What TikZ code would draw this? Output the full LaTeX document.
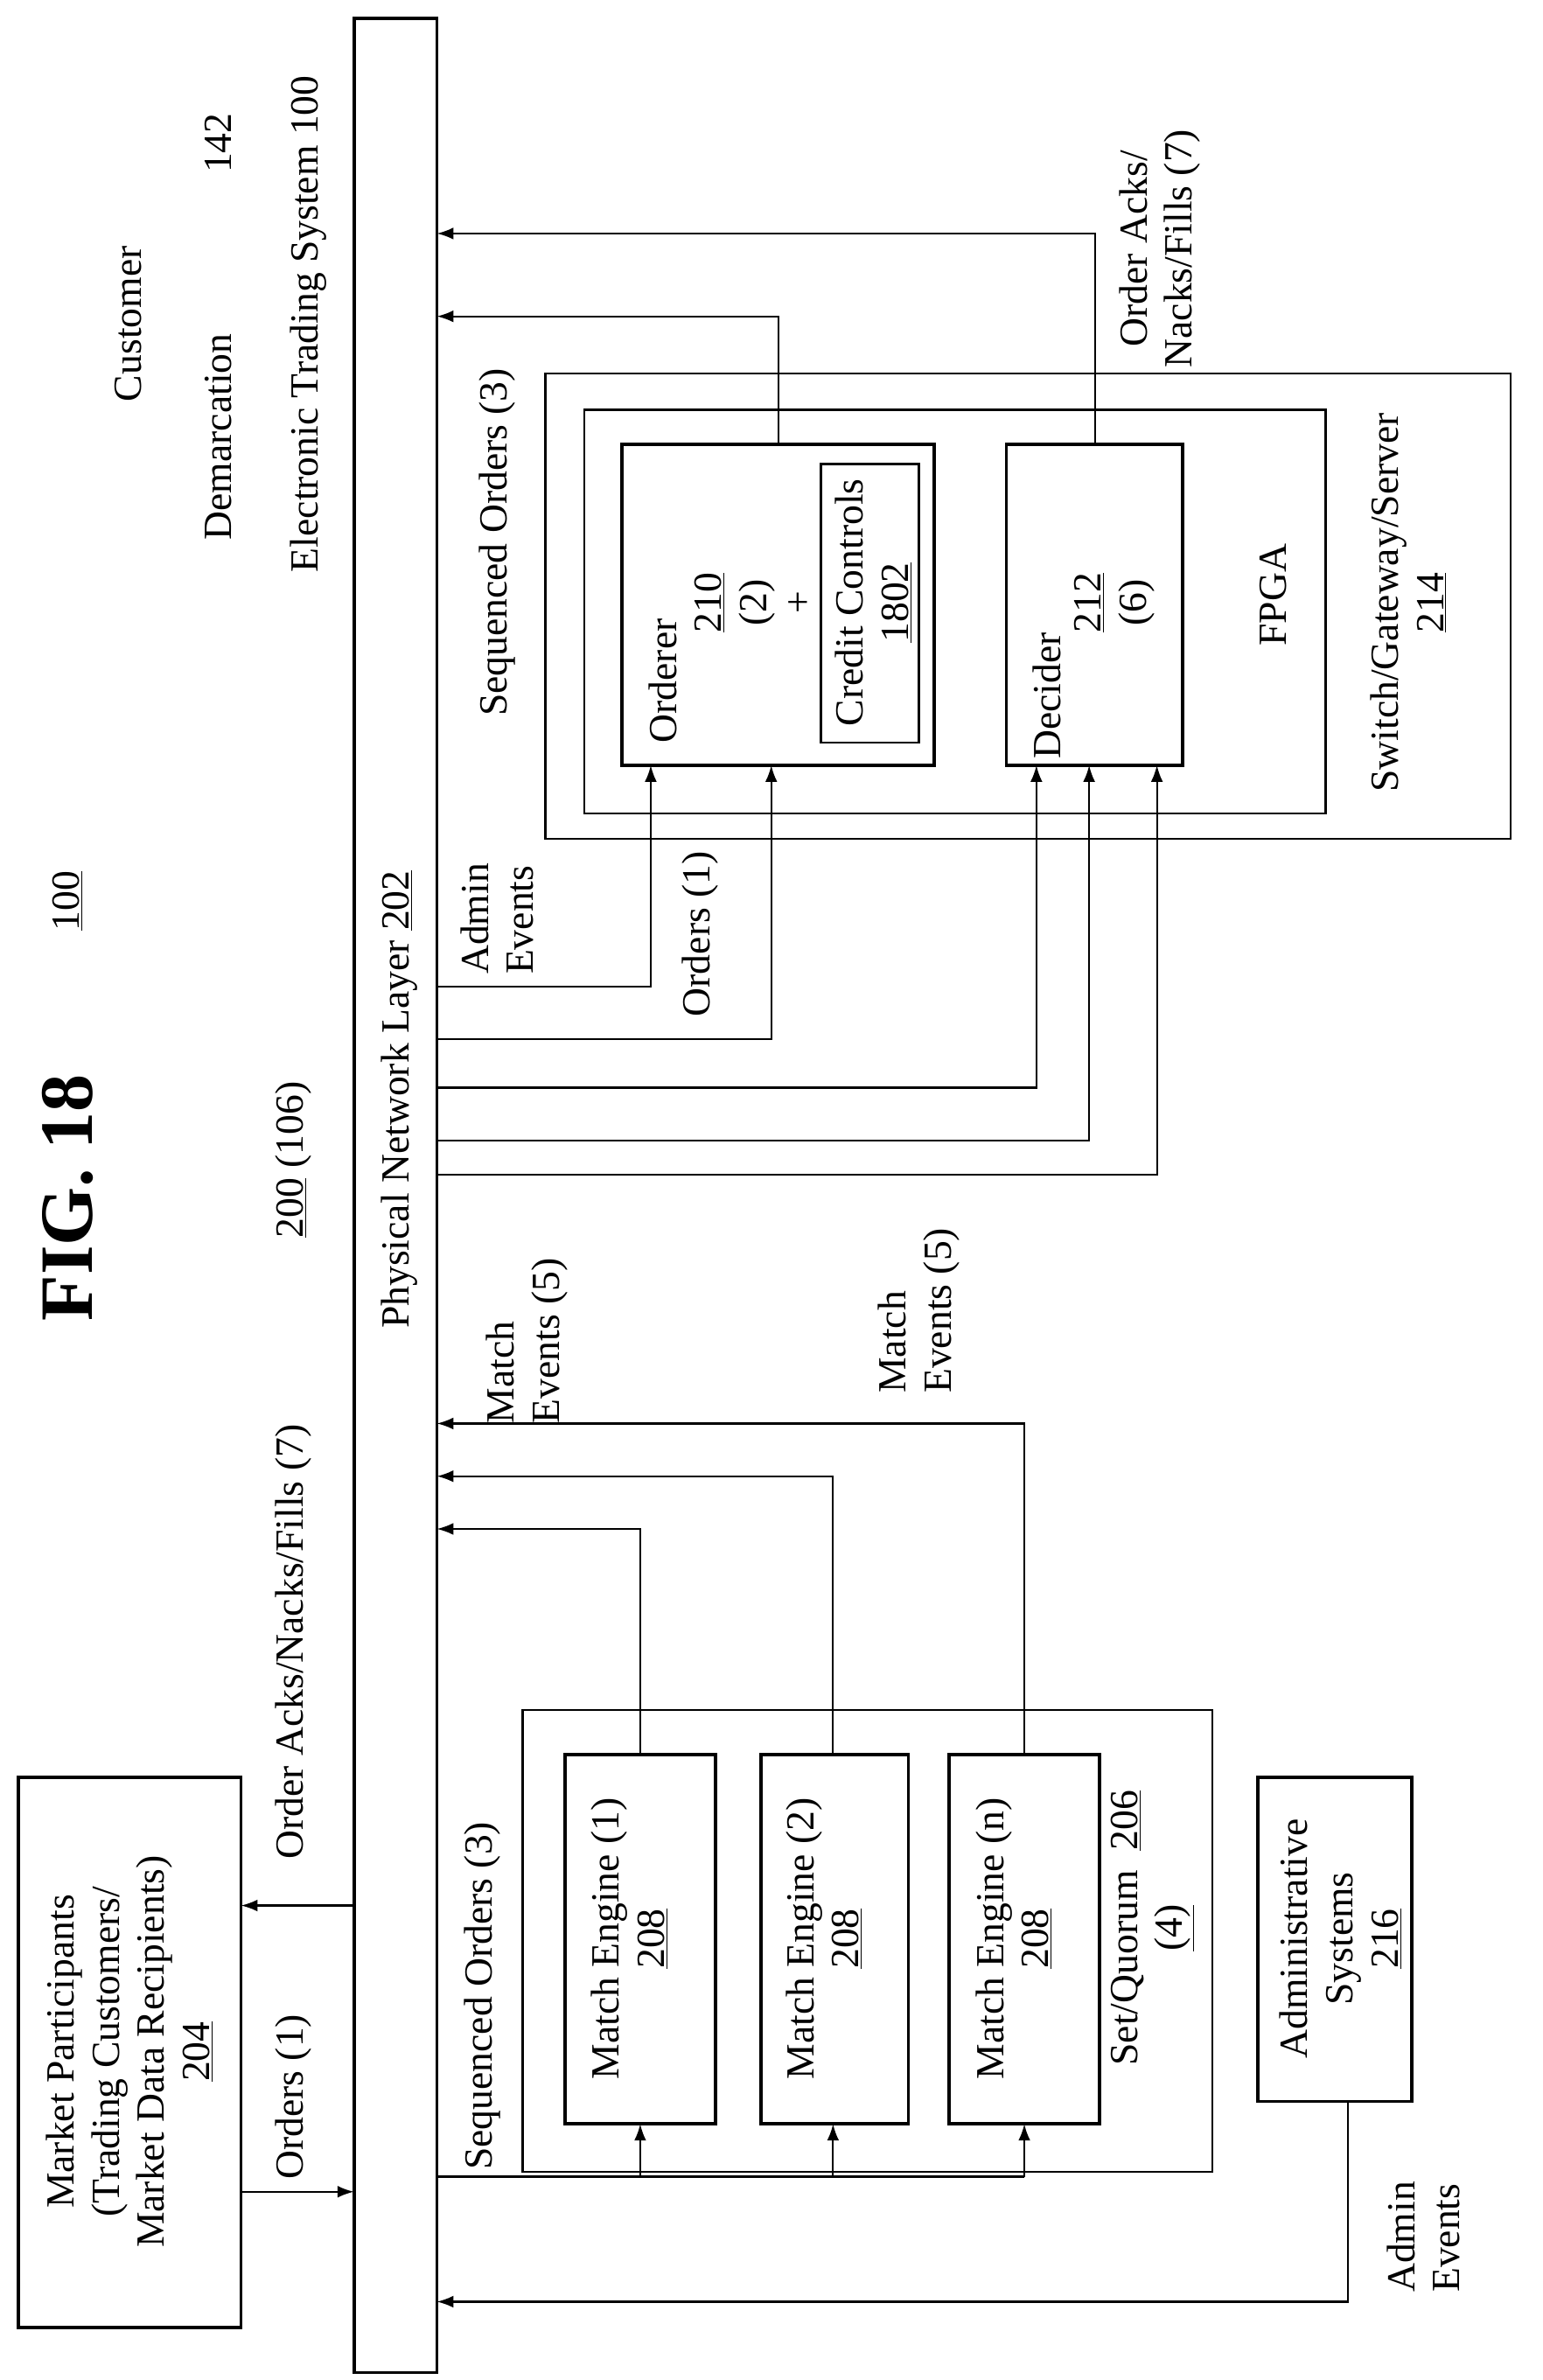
\documentclass[tikz,border=0pt]{standalone}
\usepackage{fontspec}
\setmainfont{Liberation Serif}
\usetikzlibrary{arrows.meta}
\begin{document}
\begin{tikzpicture}[x=1pt,y=-1pt,
 box/.style={draw,line width=2.2pt},
 thin/.style={draw,line width=1.3pt},
 t/.style={rotate=90,align=center,font=\fontsize{26.5}{30}\selectfont,inner sep=0},
 ar/.style={line width=1.3pt,-{Latex[length=11pt,width=8pt]}}]
\useasboundingbox (0,0) rectangle (1024,1580);
% bar
\node[box,minimum width=55,minimum height=1563,inner sep=0] (bar) at (262.5,793.5) {};
\node[t] (pnl) at (265,730) {Physical Network Layer \underline{202}};
\node[t] (ets) at (205,215) {Electronic Trading System 100};
\node[t] (dem) at (145,290) {Demarcation};
\node[t] (cus) at (85,215) {Customer};
\node[t] (n142) at (145,95) {142};
\node[t] (n100) at (45,598) {\underline{100}};
\node[t,font=\fontsize{50}{60}\selectfont\bfseries] (fig) at (45,795) {FIG. 18};
\node[t] (n200) at (195,770) {\underline{200} (106)};
% market participants
\node[box,minimum width=148,minimum height=365,inner sep=0] (mp) at (86,1362.5) {};
\node[t] (mpt) at (86,1362) {Market Participants\\(Trading Customers/\\Market Data Recipients)\\\underline{204}};
\coordinate (mpo) at (160,1455); \coordinate (bo) at (235,1455);
\draw[ar] (mpo) -- (bo);
\coordinate (ba) at (235,1265); \coordinate (mpa) at (160,1265);
\draw[ar] (ba) -- (mpa);
\node[t] (lo1) at (195,1392) {Orders (1)};
\node[t] (lo7) at (195,1090) {Order Acks/Nacks/Fills (7)};
% top
\node[thin,minimum width=641,minimum height=309,inner sep=0] (sgs) at (682.5,402.5) {};
\node[thin,minimum width=492,minimum height=268,inner sep=0] (fpga) at (634,406) {};
\node[box,minimum width=207,minimum height=213,inner sep=0] (ord) at (516.5,401.5) {};
\node[thin,minimum width=65,minimum height=185,inner sep=0] (cc) at (577.5,400.5) {};
\node[box,minimum width=117,minimum height=213,inner sep=0] (dec) at (726.5,401.5) {};
\node[t] (ordt) at (440,452) {Orderer};
\node[t] (ordn) at (500,400) {\underline{210}\\(2)\\+};
\node[t] (cct) at (580,400) {Credit Controls\\\underline{1802}};
\node[t] (dect) at (695,462) {Decider};
\node[t] (decn) at (740,400) {\underline{212}\\(6)};
\node[t] (fpgat) at (845,395) {FPGA};
\node[t] (sgst) at (935,400) {Switch/Gateway/Server\\\underline{214}};
\node[t] (lso) at (330,360) {Sequenced Orders (3)};
\node[t] (l7) at (770,165) {Order Acks/\\Nacks/Fills (7)};
\node[t,align=left] (lae) at (330,610) {Admin\\Events};
\node[t] (lo1b) at (465,620) {Orders (1)};
\coordinate (o1) at (517,295); \coordinate (b1) at (290,210);
\draw[ar] (o1) |- (b1);
\coordinate (d1) at (727,295); \coordinate (b2) at (290,155);
\draw[ar] (d1) |- (b2);
\foreach \y/\x in {655/432,690/512,722/688,757/723,780/768}{
 \coordinate (s) at (290,\y); \coordinate (e) at (\x,508);
 \draw[ar] (s) -| (e);}
% bottom
\node[thin,minimum width=458,minimum height=307,inner sep=0] (sq) at (576,1288.5) {};
\node[box,minimum width=100,minimum height=245,inner sep=0] (me1) at (425,1287.5) {};
\node[box,minimum width=98,minimum height=245,inner sep=0] (me2) at (554,1287.5) {};
\node[box,minimum width=100,minimum height=245,inner sep=0] (men) at (680,1287.5) {};
\node[t] (me1t) at (418,1287) {Match Engine (1)\\\underline{208}};
\node[t] (me2t) at (547,1287) {Match Engine (2)\\\underline{208}};
\node[t] (ment) at (673,1287) {Match Engine (n)\\\underline{208}};
\node[t] (sqt) at (765,1280) {Set/Quorum \ \underline{206}\\\underline{(4)}};
\node[t] (lso2) at (320,1325) {Sequenced Orders (3)};
\node[t,align=left] (lme1) at (350,890) {Match\\Events (5)};
\node[t,align=left] (lme2) at (610,870) {Match\\Events (5)};
\coordinate (m1) at (425,1165); \coordinate (bm1) at (290,1015); \draw[ar] (m1) |- (bm1);
\coordinate (m2) at (553,1165); \coordinate (bm2) at (290,980); \draw[ar] (m2) |- (bm2);
\coordinate (m3) at (680,1165); \coordinate (bm3) at (290,945); \draw[ar] (m3) |- (bm3);
\coordinate (sb) at (290,1445); \coordinate (se) at (680,1445);
\draw[line width=1.3pt] (sb) -- (se);
\foreach \x in {425,553,680}{\coordinate (u) at (\x,1445); \coordinate (v) at (\x,1410); \draw[ar] (u) -- (v);}
\node[box,minimum width=102,minimum height=215,inner sep=0] (adm) at (886,1287.5) {};
\node[t] (admt) at (890,1287) {Administrative\\Systems\\\underline{216}};
\coordinate (a1) at (895,1395); \coordinate (ab) at (290,1528);
\draw[ar] (a1) |- (ab);
\node[t,align=left] (lae2) at (945,1485) {Admin\\Events};
\end{tikzpicture}
\end{document}
